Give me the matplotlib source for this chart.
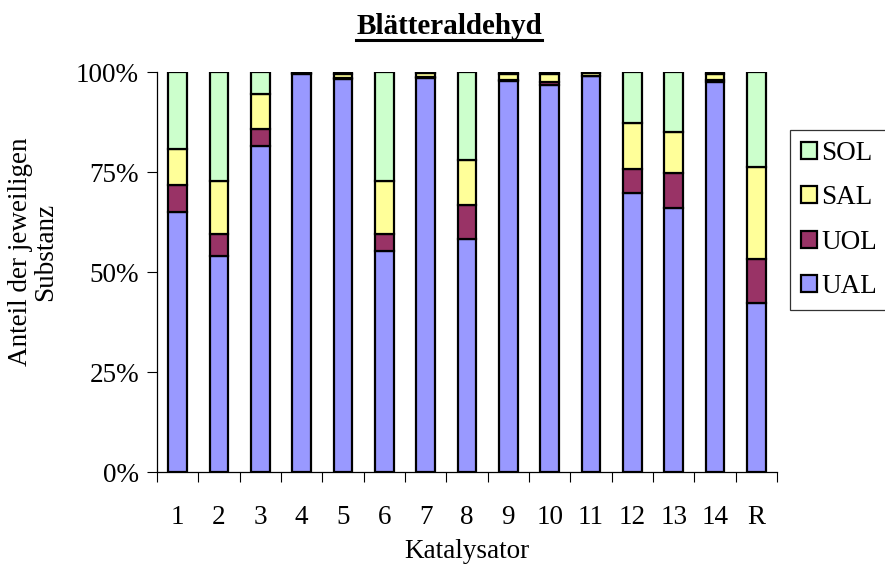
import matplotlib
matplotlib.use("Agg")
import matplotlib.pyplot as plt
from matplotlib.ticker import FixedLocator, PercentFormatter
import numpy as np

plt.rcParams['font.family'] = ['Liberation Serif', 'DejaVu Serif']

categories = ['1', '2', '3', '4', '5', '6', '7', '8', '9', '10', '11', '12', '13', '14', 'R']
series_names = ['UAL', 'UOL', 'SAL', 'SOL']

ual = [65.1, 54.0, 81.5, 99.4, 98.2, 55.3, 98.6, 58.3, 97.8, 96.7, 98.9, 69.7, 65.9, 97.6, 42.2]
uol = [6.7, 5.5, 4.2, 0.3, 0.3, 4.2, 0.2, 8.4, 0.3, 0.8, 0.2, 6.1, 8.8, 0.3, 11.1]
sal = [8.9, 13.2, 8.7, 0.2, 1.1, 13.2, 0.9, 11.3, 1.5, 2.0, 0.6, 11.4, 10.2, 1.6, 22.9]
sol = [19.3, 27.3, 5.6, 0.1, 0.4, 27.3, 0.3, 22.0, 0.4, 0.5, 0.3, 12.8, 15.1, 0.5, 23.8]

colors = ['#9999FF', '#993366', '#FFFF99', '#CCFFCC']

W, H = 885, 565
fig = plt.figure(figsize=(W / 100, H / 100), dpi=100)
ax = fig.add_axes([157 / W, 1 - 472 / H, (777 - 157) / W, 400 / H])

data = np.array([ual, uol, sal, sol], dtype=float)
totals = data.sum(axis=0)
shares = data / totals * 100

x = np.arange(len(categories))
bottom = np.zeros(len(categories))
handles = []
for name, vals, col in zip(series_names, shares, colors):
    b = ax.bar(x, vals, width=0.45, bottom=bottom, color=col,
               edgecolor='black', linewidth=1.6, label=name, zorder=3)
    handles.append(b)
    bottom += vals

ax.set_xlim(-0.5, len(categories) - 0.5)
ax.set_ylim(0, 100)

for s in ['top', 'right']:
    ax.spines[s].set_visible(False)
for s in ['left', 'bottom']:
    ax.spines[s].set_linewidth(0.9)
    ax.spines[s].set_color('black')

ax.yaxis.set_major_locator(FixedLocator([0, 25, 50, 75, 100]))
ax.yaxis.set_major_formatter(PercentFormatter(decimals=0))
ax.tick_params(axis='y', which='major', direction='out', length=7, width=0.8,
               labelsize=19.5, pad=6)

ax.set_xticks(x)
ax.set_xticklabels(categories)
ax.set_xticks(np.arange(-0.5, len(categories), 1.0), minor=True)
ax.tick_params(axis='x', which='major', length=0, labelsize=19.5, pad=24)
ax.tick_params(axis='x', which='minor', direction='out', length=7, width=0.8)

ax.set_xlabel('Katalysator', fontsize=19.5, labelpad=6)

fig.text(33 / W, 1 - 252 / H, 'Anteil der jeweiligen\nSubstanz', rotation=90,
         ha='center', va='center', fontsize=19.5, multialignment='center',
         linespacing=1.0)

title = fig.text(449 / W, 1 - 26 / H, 'Blätteraldehyd', ha='center', va='center',
                 fontsize=21, fontweight='bold')
fig.canvas.draw()
bb = title.get_window_extent()
fig.add_artist(plt.Line2D([bb.x0 / W, bb.x1 / W], [1 - 40 / H, 1 - 40 / H],
                          color='black', linewidth=2.2, transform=fig.transFigure))

leg = fig.legend(handles[::-1], series_names[::-1], loc='upper left',
                 bbox_to_anchor=(790 / W, 1 - 130 / H), fontsize=19.5,
                 frameon=True, fancybox=False, handlelength=0.6, handleheight=0.6,
                 handletextpad=0.15, labelspacing=0.72, borderpad=0.4,
                 borderaxespad=0)
leg.get_frame().set_edgecolor('black')
leg.get_frame().set_linewidth(0.9)

fig.savefig('out.png', dpi=100)
